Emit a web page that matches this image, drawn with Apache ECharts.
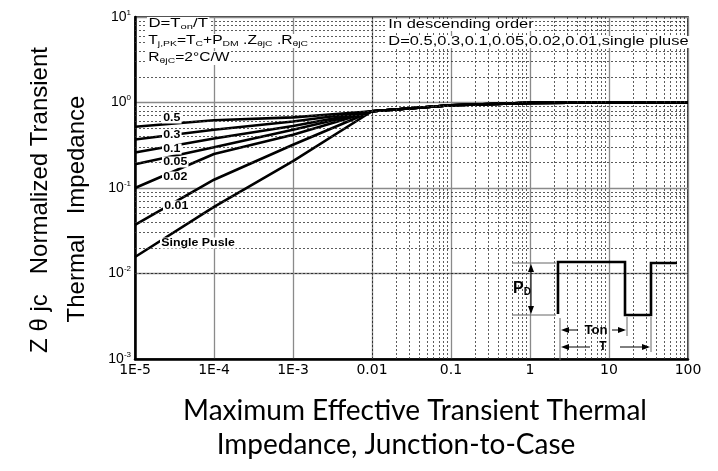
<!DOCTYPE html>
<html><head><meta charset="utf-8">
<script src="https://cdn.jsdelivr.net/npm/echarts@6/dist/echarts.min.js"></script>
<style>html,body{margin:0;padding:0;background:#fff}#c{width:718px;height:471px}</style>
</head><body><div id="c"></div>
<script>
// ---- data ----
const xValues = [1e-5, 1e-4, 1e-3, 1e-2, 1e-1, 1, 10, 100];
const curveNames = ['0.5', '0.3', '0.1', '0.05', '0.02', '0.01', 'Single Pusle'];
const d05     = [0.52,  0.62,  0.67,  0.79, 0.93, 0.99, 1.0, 1.0];
const d03     = [0.37,  0.48,  0.60,  0.79, 0.93, 0.99, 1.0, 1.0];
const d01     = [0.26,  0.38,  0.53,  0.79, 0.93, 0.99, 1.0, 1.0];
const d005    = [0.19,  0.30,  0.48,  0.79, 0.93, 0.99, 1.0, 1.0];
const d002    = [0.10,  0.25,  0.42,  0.79, 0.93, 0.99, 1.0, 1.0];
const d001    = [0.037, 0.125, 0.32,  0.79, 0.93, 0.99, 1.0, 1.0];
const dSingle = [0.0156,0.06,  0.206, 0.79, 0.93, 0.99, 1.0, 1.0];
const xTickLabels = ['1E-5', '1E-4', '1E-3', '0.01', '0.1', '1', '10', '100'];
const yTickExps = ['-3', '-2', '-1', '0', '1'];

const curves = [d05, d03, d01, d005, d002, d001, dSingle];
const F = "'Liberation Sans', Arial, sans-serif";

// minor grid values (2..9 per decade)
const minorX = [];
for (let e = -5; e < 2; e++) for (let m = 2; m < 10; m++) minorX.push(m * Math.pow(10, e));
const minorY = [];
for (let e = -3; e < 1; e++) for (let m = 2; m < 10; m++) minorY.push(m * Math.pow(10, e));

const chart = echarts.init(document.getElementById('c'));

const series = curves.map((arr, i) => ({
  type: 'line', name: curveNames[i],
  data: xValues.map((x, j) => [x, arr[j]]),
  symbol: 'none', silent: true, z: 3,
  lineStyle: { color: '#000', width: 2.6 }
}));
series.push({
  type: 'line', data: [], z: 1, silent: true,
  markLine: {
    silent: true, symbol: ['none', 'none'], label: { show: false },
    lineStyle: { color: '#333', type: [2, 2], width: 0.8 },
    data: minorX.map(v => ({ xAxis: v })).concat(minorY.map(v => ({ yAxis: v })))
  }
});

// graphics helpers
const G = [];
function txt(x, y, text, opt) {
  opt = opt || {};
  G.push({
    type: 'text', x: x, y: y, z: 100, scaleX: opt.sx || 1, rotation: opt.rot || 0,
    style: Object.assign({
      text: text, fill: '#000', font: opt.font || ('12px ' + F),
      textAlign: opt.align || 'left', textVerticalAlign: 'middle',
      backgroundColor: opt.bg || null, padding: opt.pad || 0, rich: opt.rich
    }, opt.style || {})
  });
}
function ln(x1, y1, x2, y2, c, w) {
  G.push({ type: 'line', z: 100, shape: { x1, y1, x2, y2 }, style: { stroke: c || '#000', lineWidth: w || 1 } });
}
function head(x, y, dir) {
  const L = 8, W = 3;
  let p;
  if (dir === 'l') p = [[x, y], [x + L, y - W], [x + L, y + W]];
  if (dir === 'r') p = [[x, y], [x - L, y - W], [x - L, y + W]];
  if (dir === 'u') p = [[x, y], [x - W, y + L], [x + W, y + L]];
  if (dir === 'd') p = [[x, y], [x - W, y - L], [x + W, y - L]];
  G.push({ type: 'polygon', z: 100, shape: { points: p }, style: { fill: '#000' } });
}

// top-left annotation
const richTL = {
  n: { fontSize: 12, fontFamily: F, color: '#000' },
  s: { fontSize: 8, fontFamily: F, color: '#000', padding: [6, 0, 0, 0] }
};
txt(147, 24, '{n|D=T}{s|on}{n|/T}', { rich: richTL, sx: 1.4, bg: '#fff', pad: [0, 1] });
txt(147, 41, '{n|T}{s|j,PK}{n|=T}{s|C}{n|+P}{s|DM}{n| .Z}{s|θjC}{n| .R}{s|θjC}', { rich: richTL, sx: 1.3, bg: '#fff', pad: [0, 1] });
txt(147, 58, '{n|R}{s|θjC}{n|=2°C/W}', { rich: richTL, sx: 1.3, bg: '#fff', pad: [0, 1] });
// top-right annotation
txt(387, 25, 'In descending order', { sx: 1.37, bg: '#fff', pad: [0, 1] });
txt(387, 42, 'D=0.5,0.3,0.1,0.05,0.02,0.01,single pluse', { sx: 1.37, bg: '#fff', pad: [0, 1] });

// curve labels
const labelPos = [[162, 118], [162, 135], [162, 149], [162, 162], [162, 177], [163, 206], [160, 243]];
curveNames.forEach((n, i) => {
  txt(labelPos[i][0], labelPos[i][1], n, { font: 'bold 10.5px ' + F, sx: 1.18, bg: '#fff', pad: [0, 1] });
});

// pulse diagram
G.push({ type: 'polyline', z: 100, shape: { points: [[558, 314], [558, 262], [625, 262], [625, 315], [651, 315], [651, 263], [677, 263]] },
  style: { stroke: '#000', lineWidth: 2.6, fill: null } });
ln(512, 263, 556, 263, '#666', 1);
ln(512, 315, 556, 315, '#666', 1);
ln(531, 266, 531, 312, '#000', 1);
head(531, 264, 'u'); head(531, 314, 'd');
txt(513, 289, '{p|P}{d|D}', { rich: {
  p: { fontSize: 16, fontWeight: 'bold', fontFamily: F, color: '#000' },
  d: { fontSize: 10, fontWeight: 'bold', fontFamily: F, color: '#000', padding: [6, 0, 0, 0] } } });
ln(560, 318, 560, 360, '#666', 1);
ln(627, 317, 627, 336, '#666', 1);
ln(651, 317, 651, 352, '#666', 1);
ln(564, 330, 578, 330); head(561, 330, 'l');
ln(612, 330, 624, 330); head(626, 330, 'r');
txt(596, 331, 'Ton', { font: 'bold 12px ' + F, align: 'center', sx: 1.1 });
ln(564, 347, 590, 347); head(561, 347, 'l');
ln(620, 347, 648, 347); head(650, 347, 'r');
txt(603, 347, 'T', { font: 'bold 12px ' + F, align: 'center' });

// axis titles
txt(40, 200, 'Z θ jc   Normalized Transient', { font: '24px ' + F, align: 'center', rot: Math.PI / 2 });
txt(77, 209, 'Thermal   Impedance', { font: '24px ' + F, align: 'center', rot: Math.PI / 2 });
txt(415, 411, 'Maximum Effective Transient Thermal', { font: "28px Lato, 'Open Sans', sans-serif", align: 'center' });
txt(396, 445, 'Impedance, Junction-to-Case', { font: "28px Lato, 'Open Sans', sans-serif", align: 'center' });

chart.setOption({
  animation: false,
  backgroundColor: '#fff',
  grid: { left: 135, right: 30, top: 17, bottom: 112, show: true, borderColor: '#000', borderWidth: 1.5, backgroundColor: 'transparent' },
  xAxis: {
    type: 'log', logBase: 10, min: 1e-5, max: 100,
    axisLine: { show: true, lineStyle: { color: '#000', width: 2.5 } },
    axisTick: { show: false },
    splitLine: { show: true, lineStyle: { color: '#8a8a8a', width: 1.3 } },
    axisLabel: {
      margin: 4, color: '#000', fontSize: 14, fontFamily: "'DejaVu Sans', sans-serif",
      formatter: v => xTickLabels[Math.round(Math.log10(v)) + 5]
    }
  },
  yAxis: {
    type: 'log', logBase: 10, min: 1e-3, max: 10,
    axisLine: { show: true, lineStyle: { color: '#000', width: 2.5 } },
    axisTick: { show: false },
    splitLine: { show: true, lineStyle: { color: '#8a8a8a', width: 1.3 } },
    axisLabel: {
      margin: 4,
      formatter: v => '{b|10}{s|' + yTickExps[Math.round(Math.log10(v)) + 3] + '}',
      rich: {
        b: { fontSize: 14, fontFamily: F, color: '#000' },
        s: { fontSize: 8, fontFamily: F, color: '#000', padding: [0, 0, 9, 0] }
      }
    }
  },
  series: series,
  graphic: { elements: G }
});
</script></body></html>
